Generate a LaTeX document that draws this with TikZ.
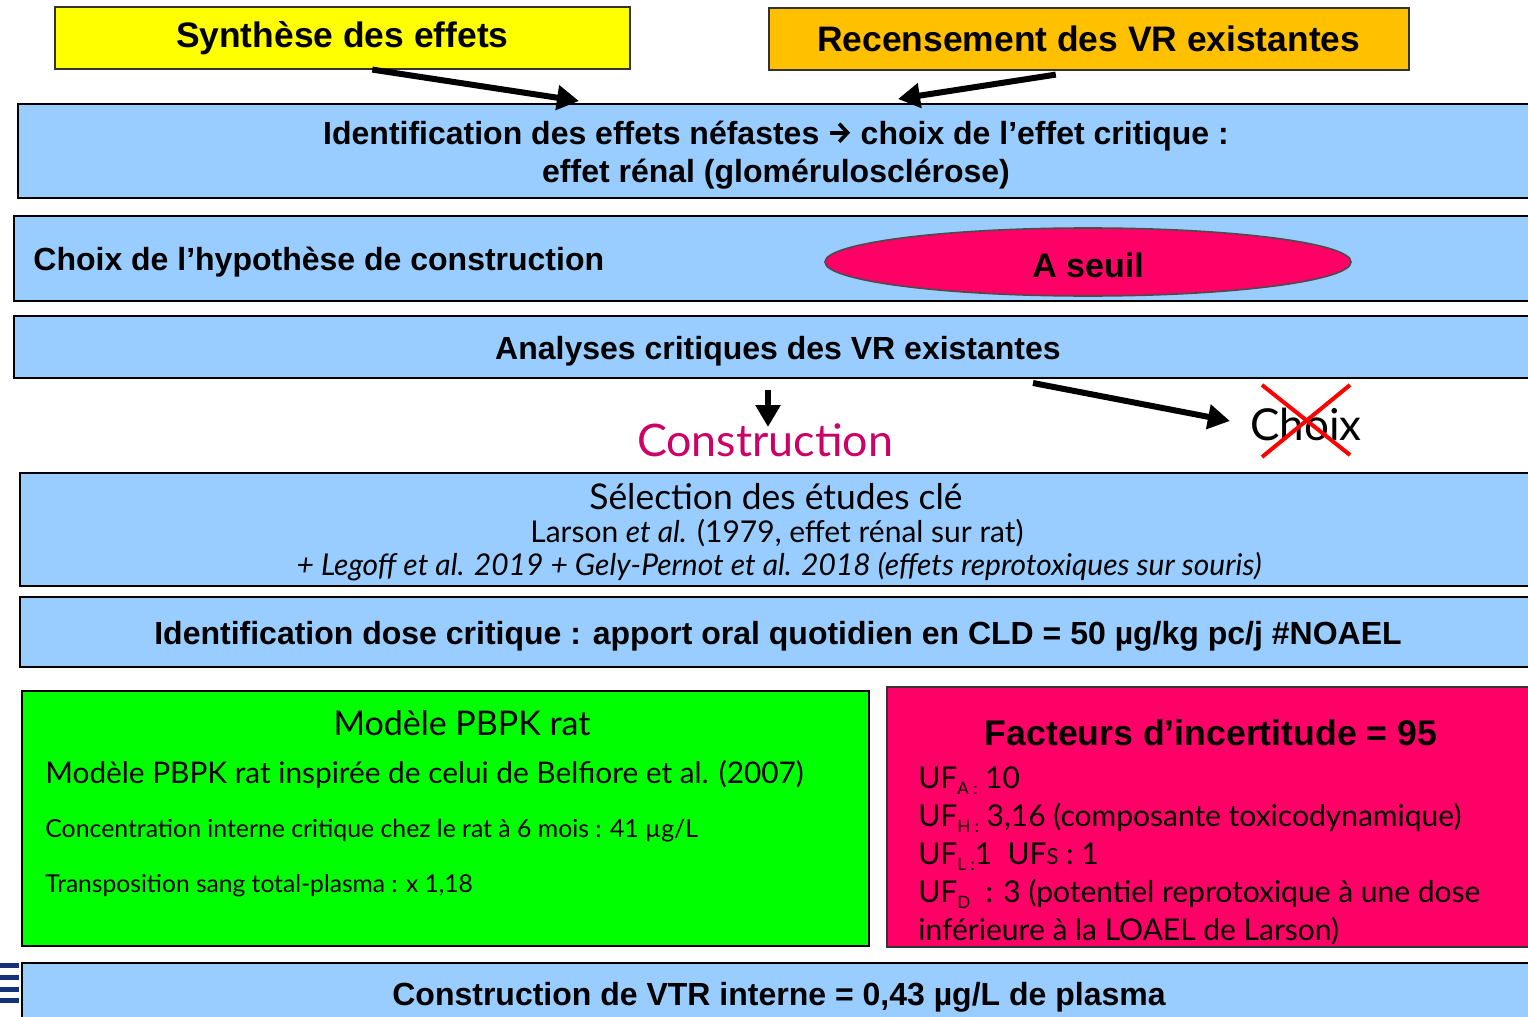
\documentclass[tikz,border=0pt]{standalone}
\usepackage{fontspec}
\setmainfont{Lato}
\newfontfamily\arialfont{Liberation Sans}
\usetikzlibrary{shapes.geometric,arrows.meta,positioning,calc}
\definecolor{boxblue}{RGB}{153,204,255}
\definecolor{synthyellow}{RGB}{255,255,0}
\definecolor{recorange}{RGB}{255,192,0}
\definecolor{uppink}{RGB}{255,0,102}
\definecolor{pbpkgreen}{RGB}{0,255,0}
\definecolor{constrcolor}{RGB}{204,0,102}
\definecolor{stripeblue}{RGB}{20,50,120}
\newcommand{\ufsub}[1]{\raisebox{-0.45ex}{\fontsize{8.5}{8.5}\selectfont #1}}
\newcommand{\inlinearrow}{\tikz[baseline=0pt, x=1pt, y=1pt]
  \draw[line width=1.8pt, -{Straight Barb[length=4.2pt, width=9pt]}] (0,5.8) -- (10,5.8);}

\begin{document}
\begin{tikzpicture}[
    x=0.5pt, y=-0.5pt,
    bluebox/.style={rectangle, draw=black, line width=1pt, fill=boxblue, anchor=north west, inner sep=0pt},
    headbox/.style={rectangle, draw=black!80, line width=0.8pt, anchor=north west, inner sep=0pt, font=\arialfont\bfseries\fontsize{17.7}{20}\selectfont},
    boldtext/.style={font=\arialfont\bfseries\fontsize{16}{19}\selectfont, inner sep=0pt, align=center},
    bigarrow/.style={line width=3pt, -{Triangle[length=11pt, width=12pt]}},
    crossline/.style={line width=2pt, red}
]
\useasboundingbox (0,0) rectangle (1528,1017);

% Sources
\node[headbox, fill=synthyellow, minimum width=287.5pt, minimum height=31pt] (synth) at (54,6) {Synthèse des effets};
\node[headbox, fill=recorange, minimum width=320pt, minimum height=31pt] (recens) at (768,7) {Recensement des VR existantes};

% Main steps
\node[bluebox, minimum width=758pt, minimum height=47pt] (ident) at (17,103) {};
\node[boldtext] (identtext) at ($(ident.center)+(0,4)$)
    {Identification des effets néfastes \inlinearrow{} choix de l’effet critique :\\effet rénal (glomérulosclérose)};
\node[bluebox, minimum width=760pt, minimum height=42.5pt] (hyp) at (13,215) {};
\node[boldtext, anchor=west] (hyptext) at ($(hyp.west)+(20,4)$) {Choix de l’hypothèse de construction};
\node[ellipse, draw=black!70, line width=0.8pt, fill=uppink, minimum width=263pt, minimum height=34pt, inner sep=0pt] (seuil) at (1088,262) {};
\node[font=\arialfont\bfseries\fontsize{17}{20}\selectfont, inner sep=0pt] (seuiltext) at ($(seuil.center)+(0,3)$) {A seuil};
\node[bluebox, minimum width=760pt, minimum height=31pt] (analyses) at (13,315) {};
\node[boldtext] (analysestext) at ($(analyses.center)+(4,4)$) {Analyses critiques des VR existantes};

% Construction / Choix
\node[text=constrcolor, font=\fontsize{22.4}{24}\selectfont, inner sep=0pt] (constr) at (765,440) {Construction};
\node[font=\fontsize{22}{24}\selectfont, inner sep=0pt] (choix) at (1306,424) {Choix};
\draw[crossline] ($(choix)+(-44,-39)$) -- ($(choix)+(44,31)$);
\draw[crossline] ($(choix)+(-44,33)$) -- ($(choix)+(44,-39)$);

\node[bluebox, minimum width=758pt, minimum height=56.5pt] (select) at (19,472) {};
\node[font=\fontsize{17.7}{20}\selectfont, inner sep=0pt] (selecttitle) at (776,497) {Sélection des études clé};
\node[font=\fontsize{15}{18}\selectfont, inner sep=0pt] (selectlarson) at (777,533) {Larson \textit{et al.} (1979, effet rénal sur rat)};
\node[font=\itshape\fontsize{15}{18}\selectfont, inner sep=0pt] (selectrepro) at (779,567) {+ Legoff et al. 2019 + Gely-Pernot et al. 2018 (effets reprotoxiques sur souris)};

\node[bluebox, minimum width=758pt, minimum height=35pt] (dose) at (19,596) {};
\node[boldtext] (dosetext) at ($(dose.center)+(0,4)$) {Identification dose critique : apport oral quotidien en CLD = 50 µg/kg pc/j \#NOAEL};

% PBPK model
\node[rectangle, draw=black, line width=1pt, fill=pbpkgreen, anchor=north west, minimum width=423.5pt, minimum height=127.5pt] (pbpk) at (21,690) {};
\node[font=\fontsize{17}{20}\selectfont, inner sep=0pt] (pbpktitle) at (462,723) {Modèle PBPK rat};
\node[font=\fontsize{14.9}{17}\selectfont, anchor=west, inner sep=0pt] (pbpkref) at (45,774) {Modèle PBPK rat inspirée de celui de Belfiore et al. (2007)};
\node[font=\fontsize{12.4}{14}\selectfont, anchor=west, inner sep=0pt] (pbpkconc) at (45,831) {Concentration interne critique chez le rat à 6 mois : 41 µg/L};
\node[font=\fontsize{12.3}{14}\selectfont, anchor=west, inner sep=0pt] (pbpktrans) at (45,886) {Transposition sang total-plasma : x 1,18};

% Uncertainty factors
\node[rectangle, draw=black!80, line width=1pt, fill=uppink, anchor=north west, minimum width=324.5pt, minimum height=130pt] (uf) at (886,686) {};
\node[font=\arialfont\bfseries\fontsize{17.8}{20}\selectfont, inner sep=0pt] (uftitle) at (1211,733) {Facteurs d’incertitude = 95};
\node[font=\fontsize{15}{19}\selectfont, anchor=north west, align=left, inner sep=0pt] (uflist) at (918,766)
    {UF\ufsub{A :} 10\\
     UF\ufsub{H :} 3,16 (composante toxicodynamique)\\
     UF\ufsub{L :}1\ \ UF{\fontsize{11}{11}\selectfont S} : 1\\
     UF\ufsub{D}\ \ : 3 (potentiel reprotoxique à une dose\\
     inférieure à la LOAEL de Larson)};

% Result
\node[bluebox, minimum width=757pt, minimum height=32pt] (vtr) at (21,962) {};
\node[boldtext] (vtrtext) at ($(vtr.center)+(0,2)$) {Construction de VTR interne = 0,43 µg/L de plasma};

% Side stripes
\foreach \ys in {963,975,987,998}
  \fill[stripeblue] (0,\ys) rectangle (19,\ys+5);

% Arrows
\draw[bigarrow] ($(synth.south)+(30,0)$) -- ($(ident.north)+(-197,-2)$);
\draw[bigarrow] ($(recens.south)+(-33,4)$) -- ($(ident.north)+(122,-4)$);
\draw[bigarrow] ($(analyses.south -| constr)+(3,11)$) -- ($(constr.north)+(3,4)$);
\draw[bigarrow] ($(analyses.south west)+(1020,4)$) -- ($(choix.west)+(-20,-3)$);

\end{tikzpicture}
\end{document}
